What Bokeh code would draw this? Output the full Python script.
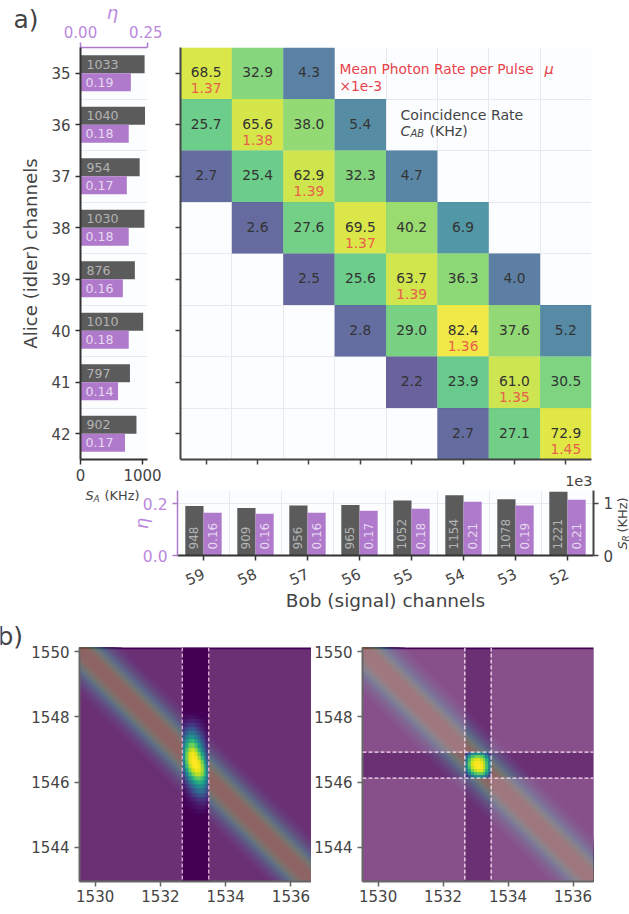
import math
import numpy as np
from bokeh.embed import file_html
from bokeh.resources import INLINE
from bokeh.plotting import figure
from bokeh.layouts import column, row, Spacer
from bokeh.models import (ColumnDataSource, FixedTicker, Label, LinearAxis, Range1d, Span,
                          LinearColorMapper, LogColorMapper, NumeralTickFormatter)
from bokeh.palettes import Viridis256
from bokeh.core.properties import value

# ---------- data ----------
alice = [35, 36, 37, 38, 39, 40, 41, 42]
bob = [59, 58, 57, 56, 55, 54, 53, 52]
sa = [1033, 1040, 954, 1030, 876, 1010, 797, 902]
eta_a = [0.188, 0.18, 0.173, 0.18, 0.158, 0.18, 0.14, 0.166]
sb = [948, 909, 956, 965, 1052, 1154, 1078, 1221]
eta_b = [0.164, 0.161, 0.164, 0.172, 0.18, 0.207, 0.192, 0.2145]
c_row = [0, 0, 0, 1, 1, 1, 1, 2, 2, 2, 2, 2, 3, 3, 3, 3, 3, 4, 4, 4, 4, 4,
         5, 5, 5, 5, 5, 6, 6, 6, 6, 7, 7, 7]
c_col = [0, 1, 2, 0, 1, 2, 3, 0, 1, 2, 3, 4, 1, 2, 3, 4, 5, 2, 3, 4, 5, 6,
         3, 4, 5, 6, 7, 4, 5, 6, 7, 5, 6, 7]
c_val = [68.5, 32.9, 4.3, 25.7, 65.6, 38.0, 5.4, 2.7, 25.4, 62.9, 32.3, 4.7,
         2.6, 27.6, 69.5, 40.2, 6.9, 2.5, 25.6, 63.7, 36.3, 4.0,
         2.8, 29.0, 82.4, 37.6, 5.2, 2.2, 23.9, 61.0, 30.5, 2.7, 27.1, 72.9]
mu = [1.37, 1.38, 1.39, 1.37, 1.39, 1.36, 1.35, 1.45]

# filter edges (nm)
filter_x = [1532.67, 1533.48]
filter_y = [1546.12, 1546.92]

# diagonal pump band: x + y on its centre line, half-widths (nm in y) and the shade inside each
band_sum = 3079.6
band_half = [1.35, 1.22, 1.10, 1.00, 0.90, 0.82, 0.74, 0.66, 0.58, 0.50, 0.42, 0.34, 0.24, 0.12]
band_shade = ["#43095a", "#411360", "#3e1e63", "#3a2a66", "#36366b", "#32426e", "#32506f",
              "#3a5a69", "#45605f", "#525f52", "#5f5a4a", "#6b5343", "#734c3f", "#754a3e"]

# peak through the signal filter only, rows top to bottom, percent of max
peak_a = [
    [1, 1, 1, 1, 1, 1, 1, 0, 0],
    [3, 4, 4, 4, 3, 2, 1, 1, 1],
    [6, 8, 10, 10, 8, 6, 4, 2, 1],
    [10, 14, 17, 17, 14, 10, 6, 4, 2],
    [16, 22, 27, 27, 22, 16, 10, 6, 3],
    [22, 31, 38, 38, 32, 24, 15, 9, 5],
    [29, 42, 51, 51, 43, 32, 21, 13, 7],
    [36, 53, 64, 66, 56, 42, 28, 17, 10],
    [42, 63, 77, 80, 70, 53, 36, 23, 13],
    [47, 73, 88, 93, 84, 66, 47, 30, 17],
    [50, 79, 95, 99, 93, 77, 58, 38, 22],
    [50, 79, 96, 100, 99, 87, 69, 47, 27],
    [46, 75, 95, 100, 100, 95, 79, 57, 33],
    [40, 68, 89, 98, 100, 98, 85, 65, 39],
    [32, 58, 79, 92, 98, 96, 87, 68, 43],
    [24, 45, 65, 80, 89, 90, 82, 67, 45],
    [17, 32, 49, 64, 74, 76, 70, 58, 39],
    [12, 23, 36, 49, 60, 64, 60, 50, 35],
    [8, 15, 25, 36, 45, 50, 48, 41, 29],
    [5, 9, 16, 24, 32, 37, 37, 32, 23],
    [3, 6, 10, 15, 21, 25, 26, 23, 17],
    [1, 3, 6, 9, 12, 15, 16, 15, 11],
    [1, 2, 3, 5, 7, 9, 10, 9, 6],
    [0, 1, 2, 3, 4, 5, 6, 5, 3],
    [0, 0, 1, 1, 2, 3, 3, 2, 1],
]
peak_a_span = [1545.04, 1548.18]
# peak through both filters, rows top to bottom, percent of max
peak_b = [
    [18, 34, 44, 48, 50, 47, 40, 30, 18],
    [32, 56, 72, 78, 80, 76, 66, 48, 30],
    [40, 70, 88, 94, 95, 91, 80, 62, 38],
    [44, 76, 94, 99, 100, 97, 88, 68, 42],
    [46, 78, 95, 100, 100, 99, 90, 70, 44],
    [43, 72, 91, 98, 100, 99, 90, 70, 44],
    [36, 60, 80, 90, 94, 93, 84, 64, 40],
    [26, 44, 60, 72, 76, 76, 68, 52, 30],
    [14, 26, 36, 44, 48, 48, 42, 32, 18],
]
img_xticks = [1530, 1532, 1534, 1536]
img_yticks = [1544, 1546, 1548, 1550]

# ---------- style ----------
FONT = "DejaVu Sans"
INK = "#444444"
GREY = "#5b5b5b"
PURPLE = "#b07acc"
PURPLE_T = "#bb88dd"
RED = "#e8424a"
GRID = "#e7e9ef"
BG = "#fcfdff"
OVER = "#cfa9c6"
DARK = "#440154"


def label(p, x, y, text, size, color=INK, align="left", style="normal", angle=0.0):
    p.add_layout(Label(x=x, y=y, text=text, text_font=FONT, text_font_size=f"{size}px",
                       text_color=color, text_align=align, text_baseline="middle",
                       text_font_style=style, angle=angle))


def style_axis(ax, color=INK, width=1.5, size=15, labels=INK):
    ax.axis_line_color = color
    ax.axis_line_width = width
    ax.major_tick_line_color = color
    ax.major_tick_line_width = 1.5
    ax.major_tick_in = 0
    ax.major_tick_out = 5
    ax.minor_tick_line_color = None
    ax.major_label_text_font = FONT
    ax.major_label_text_font_size = f"{size}px"
    ax.major_label_text_color = labels
    ax.major_label_standoff = 5


cell_edges = [i - 0.5 for i in range(9)]
idx = list(range(8))

# ---------- left bars ----------
L = figure(width=162, height=486, x_range=Range1d(0, 1080), y_range=Range1d(7.5, -0.5),
           output_backend="svg", toolbar_location=None, min_border_left=80, min_border_right=15,
           min_border_top=47, min_border_bottom=27, x_axis_location="below", outline_line_color=None,
           background_fill_color=BG, border_fill_color="white")
L.extra_x_ranges = {"eta": Range1d(0, 0.25)}
L.xgrid.ticker = FixedTicker(ticks=[1080])
L.ygrid.ticker = FixedTicker(ticks=cell_edges)
L.xgrid.grid_line_color = GRID
L.ygrid.grid_line_color = GRID
style_axis(L.xaxis[0], "#333333", 2)
style_axis(L.yaxis[0], "#333333", 2)
L.xaxis[0].ticker = FixedTicker(ticks=[0, 1000])
L.xaxis[0].major_label_standoff = 4
L.yaxis[0].ticker = FixedTicker(ticks=idx)
L.yaxis[0].major_label_overrides = {i: str(a) for i, a in enumerate(alice)}
L.yaxis[0].axis_label = "Alice (idler) channels"
L.yaxis[0].axis_label_text_font = FONT
L.yaxis[0].axis_label_text_font_size = "18.1px"
L.yaxis[0].axis_label_text_font_style = "normal"
L.yaxis[0].axis_label_text_color = INK
L.yaxis[0].axis_label_standoff = 7
top = LinearAxis(x_range_name="eta", ticker=FixedTicker(ticks=[0, 0.25]),
                 formatter=NumeralTickFormatter(format="0.00"))
style_axis(top, PURPLE, 1.5, 15, PURPLE_T)
L.add_layout(top, "above")
ya = np.array(idx, dtype=float)
L.hbar(y=ya - 0.175, height=0.35, left=0, right=sa, color=GREY, line_color=None)
L.hbar(y=ya + 0.175, height=0.35, left=0, right=eta_a, x_range_name="eta", color=PURPLE, line_color=None)
L.text(x=[0] * 8, y=ya - 0.175, text=[str(v) for v in sa], x_offset=6, text_baseline="middle",
       text_font=value(FONT), text_font_size="12.6px", text_color="#b4b4b4")
L.text(x=[0] * 8, y=ya + 0.175, text=[f"{v:.2f}" for v in eta_a], x_offset=5, text_baseline="middle",
       text_font=value(FONT), text_font_size="12.6px", text_color="#e8d8f0")

# ---------- heat map ----------
H = figure(width=467, height=486, x_range=Range1d(-0.5, 7.5), y_range=Range1d(7.5, -0.5),
           output_backend="svg", toolbar_location=None, min_border_left=18, min_border_right=38,
           min_border_top=47, min_border_bottom=27, outline_line_color=None,
           background_fill_color=BG, border_fill_color="white")
H.xgrid.ticker = FixedTicker(ticks=cell_edges)
H.ygrid.ticker = FixedTicker(ticks=cell_edges)
H.xgrid.grid_line_color = GRID
H.ygrid.grid_line_color = GRID
for ax, ticks in ((H.xaxis[0], idx), (H.yaxis[0], idx)):
    style_axis(ax, INK, 2)
    ax.ticker = FixedTicker(ticks=ticks)
    ax.major_label_overrides = {i: "" for i in ticks}
    ax.major_label_standoff = 0
mapper = LogColorMapper(palette=Viridis256, low=1, high=95)
src = ColumnDataSource(dict(x=c_col, y=c_row, v=c_val, t=[f"{v:.1f}" for v in c_val]))
H.rect("x", "y", width=1, height=1, source=src, fill_color={"field": "v", "transform": mapper},
       fill_alpha=0.8, line_color=None)
H.text("x", "y", text="t", source=src, text_align="center", text_baseline="middle", y_offset=-1,
       text_font=value(FONT), text_font_size="13.8px", text_color="#333333")
H.text(idx, idx, text=[f"{m:.2f}" for m in mu], text_align="center", text_baseline="middle", y_offset=15,
       text_font=value(FONT), text_font_size="13.8px", text_color="#e8604a")

# ---------- bottom bars ----------
B = figure(width=492, height=129, x_range=Range1d(-0.5, 7.5), y_range=Range1d(0, 0.25),
           output_backend="svg", toolbar_location=None, min_border_left=40, min_border_right=36,
           min_border_top=4, min_border_bottom=60, outline_line_color=None,
           background_fill_color=BG, border_fill_color="white")
B.extra_y_ranges = {"count": Range1d(0, 1243)}
B.xgrid.ticker = FixedTicker(ticks=cell_edges)
B.ygrid.ticker = FixedTicker(ticks=[0.2])
B.xgrid.grid_line_color = GRID
B.ygrid.grid_line_color = GRID
style_axis(B.xaxis[0], "#333333", 2)
B.xaxis[0].ticker = FixedTicker(ticks=idx)
B.xaxis[0].major_label_overrides = {i: str(b) for i, b in enumerate(bob)}
B.xaxis[0].major_label_orientation = 0.42
B.xaxis[0].major_label_standoff = 12
B.xaxis[0].axis_label = "Bob (signal) channels"
B.xaxis[0].axis_label_text_font = FONT
B.xaxis[0].axis_label_text_font_size = "18.5px"
B.xaxis[0].axis_label_text_font_style = "normal"
B.xaxis[0].axis_label_text_color = INK
B.xaxis[0].axis_label_standoff = -4
style_axis(B.yaxis[0], PURPLE, 1.5, 15.5, PURPLE_T)
B.yaxis[0].ticker = FixedTicker(ticks=[0, 0.2])
B.yaxis[0].formatter = NumeralTickFormatter(format="0.0")
right = LinearAxis(y_range_name="count", ticker=FixedTicker(ticks=[0, 1000]),
                   major_label_overrides={0: "0", 1000: "1"})
style_axis(right, INK, 2)
B.add_layout(right, "right")
xb = np.array(idx, dtype=float)
B.vbar(x=xb - 0.175, width=0.35, bottom=0, top=sb, y_range_name="count", color=GREY, line_color=None)
B.vbar(x=xb + 0.175, width=0.35, bottom=0, top=eta_b, color=PURPLE, line_color=None)
B.text(xb - 0.2, [0] * 8, text=[str(v) for v in sb], angle=math.pi / 2, y_offset=-6, text_baseline="middle",
       text_font=value(FONT), text_font_size="12px", text_color="#b4b4b4")
B.text(xb + 0.175, [0] * 8, text=[f"{v:.2f}" for v in eta_b], angle=math.pi / 2, y_offset=-6, text_baseline="middle",
       text_font=value(FONT), text_font_size="12px", text_color="#e8d8f0")

# ---------- spectra ----------
peak_map = LinearColorMapper(palette=Viridis256, low=0, high=100)
X0, X1, Y0, Y1 = 1529.52, 1536.63, 1542.95, 1550.13
OT = 1550.08


def spectrum(width, left, right_border):
    p = figure(width=width, height=291, x_range=Range1d(X0, X1), y_range=Range1d(Y0, Y1),
               output_backend="svg", toolbar_location=None, min_border_left=left,
               min_border_right=right_border, min_border_top=32, min_border_bottom=25,
               outline_line_color=None, border_fill_color="white", background_fill_color="#440155")
    p.grid.visible = False
    for ax, ticks in ((p.xaxis[0], img_xticks), (p.yaxis[0], img_yticks)):
        style_axis(ax, "#666666", 2)
        ax.ticker = FixedTicker(ticks=ticks)
    p.xaxis[0].major_label_standoff = 3
    for hw, shade in zip(band_half, band_shade):
        p.varea(x=[X0, X1], y1=[band_sum - X0 - hw, band_sum - X1 - hw],
                y2=[band_sum - X0 + hw, band_sum - X1 + hw], fill_color=shade)
    return p


A1 = spectrum(311, 79, 0)
# signal filter only: the masked sides are lightened, the pass band shows the peak
A1.quad(left=X0, right=filter_x[0], bottom=Y0, top=OT, fill_color=OVER, fill_alpha=0.28, line_color=None)
A1.quad(left=filter_x[1], right=X1, bottom=Y0, top=OT, fill_color=OVER, fill_alpha=0.28, line_color=None)
A1.quad(left=filter_x[0], right=filter_x[1], bottom=Y0, top=Y1, fill_color=DARK, line_color=None)
A1.image(image=[np.array(peak_a, dtype=float)[::-1]], x=filter_x[0], y=peak_a_span[0],
         dw=filter_x[1] - filter_x[0], dh=peak_a_span[1] - peak_a_span[0], color_mapper=peak_map)
for e in filter_x:
    A1.add_layout(Span(location=e, dimension="height", line_color="#e6b4d8", line_width=1.3, line_dash="4 2"))

A2 = spectrum(318, 51, 36)
A2.quad(left=X0, right=filter_x[0], bottom=Y0, top=OT, fill_color=OVER, fill_alpha=0.28, line_color=None)
A2.quad(left=filter_x[1], right=X1, bottom=Y0, top=OT, fill_color=OVER, fill_alpha=0.28, line_color=None)
A2.quad(left=X0, right=X1, bottom=Y0, top=filter_y[0], fill_color=OVER, fill_alpha=0.28, line_color=None)
A2.quad(left=X0, right=X1, bottom=filter_y[1], top=OT, fill_color=OVER, fill_alpha=0.28, line_color=None)
A2.image(image=[np.array(peak_b, dtype=float)[::-1]], x=filter_x[0], y=filter_y[0],
         dw=filter_x[1] - filter_x[0], dh=filter_y[1] - filter_y[0], color_mapper=peak_map)
for e in filter_x:
    A2.add_layout(Span(location=e, dimension="height", line_color="#fbe3f2", line_width=1.3, line_dash="4 2"))
for e in filter_y:
    A2.add_layout(Span(location=e, dimension="width", line_color="#fbe3f2", line_width=1.3, line_dash="4 2"))

# ---------- text layer over the whole page (captions that lie outside any plot frame) ----------
PAGE_H = 906
T = figure(width=629, height=PAGE_H, x_range=Range1d(0, 629), y_range=Range1d(PAGE_H, 0),
           output_backend="svg", toolbar_location=None, min_border=0, outline_line_color=None,
           background_fill_color=None, border_fill_color=None, margin=(-PAGE_H, 0, 0, 0))
T.axis.visible = False
T.grid.visible = False
label(T, 13, 19, "a)", 25)
label(T, -3, 636, "b)", 25)
label(T, 112, 12, "\u03b7", 18, PURPLE_T, "center", "italic")
label(T, 339, 68, "Mean Photon Rate per Pulse", 13.8, RED)
label(T, 544, 68, "\u03bc", 14.5, RED, style="italic")
label(T, 339, 85, "\u00d71e-3", 13.8, RED)
label(T, 400, 114, "Coincidence Rate", 14.1)
label(T, 400, 130, "C", 14.1, style="italic")
label(T, 410, 133, "AB", 10, style="italic")
label(T, 429, 130, "(KHz)", 14.1)
label(T, 592, 480, "1e3", 14.5, align="right")
label(T, 85, 495, "S", 12.9, style="italic")
label(T, 93, 498, "A", 9, style="italic")
label(T, 104, 495, "(KHz)", 12.9)
label(T, 141, 523, "\u03b7", 18, PURPLE_T, "center", "italic", angle=math.pi / 2)
label(T, 622, 549, "S", 12.9, style="italic", angle=math.pi / 2)
label(T, 625, 541, "R", 9, style="italic", angle=math.pi / 2)
label(T, 622, 532, "(KHz)", 12.9, angle=math.pi / 2)

root = column(
    row(L, H, spacing=0),
    row(Spacer(width=137, height=129), B, spacing=0),
    row(A1, A2, spacing=0),
    T,
    spacing=0,
)
open("out.html", "w").write(file_html(root, INLINE))
